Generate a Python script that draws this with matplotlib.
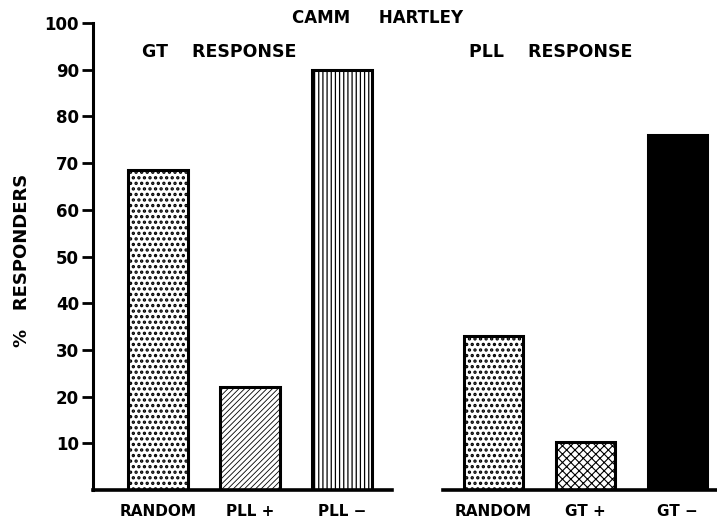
import matplotlib
matplotlib.use("Agg")
import matplotlib.pyplot as plt
from matplotlib.lines import Line2D

# Data
gt_categories = ["RANDOM", "PLL +", "PLL \u2212"]
gt_values = [68.5, 22, 90]
pll_categories = ["RANDOM", "GT +", "GT \u2212"]
pll_values = [33, 10.3, 76]
y_ticks = [10, 20, 30, 40, 50, 60, 70, 80, 90, 100]

plt.rcParams['font.family'] = ['DejaVu Sans']
plt.rcParams['hatch.color'] = 'black'

W, H = 717, 519
fig = plt.figure(figsize=(W / 100, H / 100), dpi=100)
ax_left_px, ax_right_px = 93, 717
ax_bottom_px, ax_top_px = 490, 23
ax = fig.add_axes([ax_left_px / W, 1 - ax_bottom_px / H,
                   (ax_right_px - ax_left_px) / W, (ax_bottom_px - ax_top_px) / H])

gt_pos = [0, 1, 2]
pll_pos = [3.65, 4.65, 5.65]
width = 0.65

styles_gt = [dict(hatch='...', fc='white', lw=1.6),
             dict(hatch='//////', fc='white', lw=0.6),
             dict(hatch='||||', fc='white', lw=0.9)]
styles_pll = [dict(hatch='...', fc='white', lw=1.6),
              dict(hatch='xxxx', fc='white', lw=0.8),
              dict(hatch=None, fc='black', lw=1.0)]

for pos, val, st in zip(gt_pos + pll_pos, gt_values + pll_values, styles_gt + styles_pll):
    b = ax.bar(pos, val, width=width, color=st['fc'], edgecolor='black',
               linewidth=2.2, hatch=st['hatch'], zorder=2)[0]
    try:
        b.set_hatch_linewidth(st['lw'])
    except AttributeError:
        pass

ax.set_xlim(-0.707, 6.08)
ax.set_ylim(0, 100)

for s in ['top', 'right', 'bottom']:
    ax.spines[s].set_visible(False)
ax.spines['left'].set_linewidth(2.2)

# broken baseline
ax.add_line(Line2D([-0.707, 2.54], [0, 0], color='black', lw=2.6, clip_on=False, zorder=3))
ax.add_line(Line2D([3.10, 6.08], [0, 0], color='black', lw=2.6, clip_on=False, zorder=3))

ax.set_yticks(y_ticks)
ax.set_yticklabels([str(t) for t in y_ticks], fontsize=12, fontweight='bold')
ax.tick_params(axis='y', direction='out', length=8, width=2, pad=2)

ax.set_xticks(gt_pos + pll_pos)
ax.set_xticklabels(gt_categories + pll_categories, fontsize=11, fontweight='bold')
ax.tick_params(axis='x', length=0, pad=10)

fig.text(22 / W, 1 - 260 / H, "%   RESPONDERS", rotation=90, ha='center', va='center',
         fontsize=13, fontweight='bold')

fig.text(378 / W, 1 - 18 / H, "CAMM     HARTLEY", ha='center', va='center',
         fontsize=12, fontweight='bold')
fig.text(219 / W, 1 - 52 / H, "GT    RESPONSE", ha='center', va='center',
         fontsize=12.5, fontweight='bold')
fig.text(551 / W, 1 - 52 / H, "PLL    RESPONSE", ha='center', va='center',
         fontsize=12.5, fontweight='bold')

fig.savefig("out.png", dpi=100)
